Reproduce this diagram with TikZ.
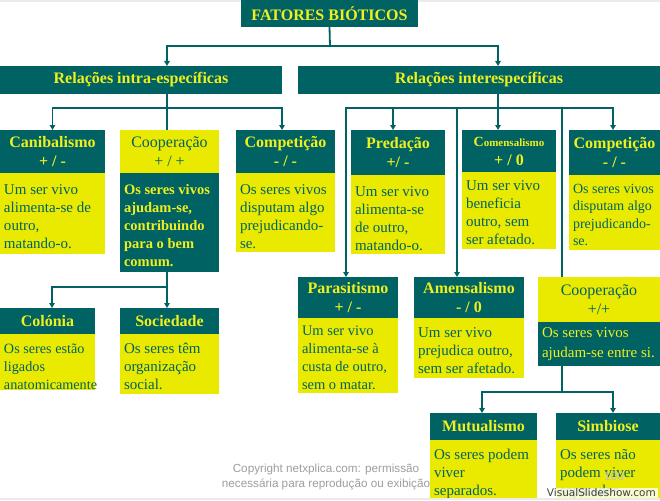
\documentclass[tikz,border=0pt]{standalone}
\usepackage{fontspec}
\setmainfont{Liberation Serif}
\newfontfamily\arialf{Liberation Sans}
\newfontfamily\dejaf{DejaVu Sans}
\usetikzlibrary{arrows.meta,calc}
\definecolor{dk}{RGB}{0,98,98}
\definecolor{yl}{RGB}{234,234,0}
\definecolor{ylt}{RGB}{240,240,30}
\newcommand\tbox[4]{\parbox[c][#1][t]{#2}{\raggedright\rule{0pt}{#3}#4}}
\begin{document}
\begin{tikzpicture}[x=1pt,y=-1pt,
  hd/.style={fill=dk,text=ylt,inner sep=0pt,outer sep=0pt,anchor=north west,align=center,font=\fontsize{16}{19}\selectfont\bfseries},
  yhd/.style={fill=yl,text=dk,inner sep=0pt,outer sep=0pt,anchor=north west,align=center,font=\fontsize{16}{19}\selectfont},
  bd/.style={fill=yl,text=dk,inner xsep=4pt,inner ysep=0pt,outer sep=0pt,anchor=north west,font=\fontsize{15}{18}\selectfont},
  tbd/.style={fill=dk,text=ylt,inner xsep=4pt,inner ysep=0pt,outer sep=0pt,anchor=north west,font=\fontsize{15}{18}\selectfont},
  ln/.style={draw=dk,line width=1.8pt},
  arr/.style={ln,-{Triangle[length=5pt,width=5.5pt]}}]
\useasboundingbox (0,0) rectangle (660,500);
\fill[white] (0,0) rectangle (660,500);
\fill[black!8] (0,0) rectangle (660,2);

% title and bars
\node[hd,minimum width=177pt,minimum height=27pt,font=\fontsize{16}{18}\selectfont\bfseries] (title) at (241,0) {FATORES BIÓTICOS};
\node[hd,minimum width=282pt,minimum height=28pt] (intra) at (0,66) {Relações intra-específicas};
\node[hd,minimum width=362pt,minimum height=28pt] (inter) at (298,66) {Relações interespecíficas};

% intra-specific boxes
\node[hd,minimum width=105pt,minimum height=43pt] (canH) at (0,130) {Canibalismo\\+ / -};
\node[bd] (canB) at (0,173) {\tbox{81pt}{97pt}{21pt}{Um ser vivo\\alimenta-se de\\outro,\\matando-o.}};

\node[yhd,minimum width=99pt,minimum height=43pt] (coopLH) at (120,130) {Cooperação\\+ / +};
\node[tbd,font=\fontsize{14.5}{18}\selectfont\bfseries] (coopLB) at (120,173) {\tbox{99pt}{91pt}{21pt}{Os seres vivos\\ajudam-se,\\contribuindo\\para o bem\\comum.}};

\node[hd,minimum width=99pt,minimum height=43pt] (compLH) at (236,130) {Competição\\- / -};
\node[bd] (compLB) at (236,173) {\tbox{79pt}{91pt}{21pt}{Os seres vivos\\disputam algo\\prejudicando-\\se.}};

\node[hd,minimum width=95pt,minimum height=26pt] (colH) at (0,308) {Colónia};
\node[bd,font=\fontsize{14.2}{18}\selectfont] (colB) at (0,334) {\tbox{56pt}{87pt}{19pt}{Os seres estão\\ligados\\anatomicamente}};

\node[hd,minimum width=99pt,minimum height=26pt] (socH) at (120,308) {Sociedade};
\node[bd] (socB) at (120,334) {\tbox{60pt}{91pt}{19pt}{Os seres têm\\organização\\social.}};

% inter-specific boxes
\node[hd,minimum width=94pt,minimum height=45pt] (predH) at (351,130) {Predação\\+/ -};
\node[bd] (predB) at (351,175) {\tbox{79pt}{86pt}{21pt}{Um ser vivo\\alimenta-se\\de outro,\\matando-o.}};

\node[hd,minimum width=94pt,minimum height=42pt] (comH) at (462,130) {{\fontsize{14}{17}\selectfont C}{\fontsize{11}{17}\selectfont omensalismo}\\+ / 0};
\node[bd] (comB) at (462,172) {\tbox{77pt}{86pt}{18pt}{Um ser vivo\\beneficia\\outro, sem\\ser afetado.}};

\node[hd,minimum width=91pt,minimum height=45pt] (compRH) at (569,130) {Competição\\- / -};
\node[bd,font=\fontsize{14}{17.5}\selectfont] (compRB) at (569,175) {\tbox{75pt}{83pt}{18pt}{Os seres vivos\\disputam algo\\prejudicando-\\se.}};

\node[hd,minimum width=100pt,minimum height=41pt] (parH) at (298,277) {Parasitismo\\+ / -};
\node[bd,font=\fontsize{14.5}{18}\selectfont] (parB) at (298,318) {\tbox{75pt}{92pt}{17pt}{Um ser vivo\\alimenta-se à\\custa de outro,\\sem o matar.}};

\node[hd,minimum width=110pt,minimum height=41pt] (amH) at (414,277) {Amensalismo\\- / 0};
\node[bd] (amB) at (414,318) {\tbox{60pt}{102pt}{19pt}{Um ser vivo\\prejudica outro,\\sem ser afetado.}};

\node[yhd,minimum width=122pt,minimum height=45pt] (coopRH) at (538,277) {Cooperação\\+/+};
\node[tbd,font=\fontsize{15}{20}\selectfont] (coopRB) at (538,322) {\tbox{44pt}{114pt}{15pt}{Os seres vivos\\ajudam-se entre si.}};

\node[hd,minimum width=107pt,minimum height=27pt] (mutH) at (430,413) {Mutualismo};
\node[bd] (mutB) at (430,440) {\tbox{60pt}{99pt}{19pt}{Os seres podem\\viver\\separados.}};

\node[hd,minimum width=104pt,minimum height=27pt] (simH) at (556,413) {Simbiose};
\node[bd] (simB) at (556,440) {\tbox{60pt}{96pt}{19pt}{Os seres não\\podem viver\\separados.}};

% connectors
\coordinate (j0) at (330,46);
\coordinate (j1) at (167,108);
\coordinate (j2) at (498,108);
\coordinate (j3) at (167,287);
\coordinate (j4) at (562,392);
\draw[ln] (title.south) -- (j0);
\draw[arr] (j0) -| (intra.north -| j1);
\draw[arr] (j0) -| (inter.north -| j2);

\draw[ln] (intra.south -| j1) -- (coopLH.north -| j1);
\draw[arr] (j1) -| (canH.north);
\draw[arr] (j1) -| ($(compLH.north west)+(46,0)$);

\draw[ln] (inter.south -| j2) -- (j2);
\draw[arr] (j2) -| ($(parH.north west)+(48,0)$);
\draw[arr] (j2) -| ($(predH.north west)+(42,0)$);
\draw[arr] (j2) -| ($(amH.north west)+(43,0)$);
\draw[arr] (j2) -- (comH.north -| j2);
\draw[ln] (j2) -| ($(coopRH.north west)+(24,0)$);
\draw[arr] (j2) -| ($(compRH.north west)+(44,0)$);

\draw[ln] (coopLB.south -| j3) -- (j3);
\draw[arr] (j3) -| ($(colH.north west)+(52,0)$);
\draw[arr] (j3) -- (socH.north -| j3);

\draw[ln] (coopRB.south -| j4) -- (j4);
\draw[arr] (j4) -| ($(mutH.north west)+(52,0)$);
\draw[arr] (j4) -| ($(simH.north west)+(57,0)$);

% footer texts
\node[text=black!38,align=center,font=\arialf\fontsize{11.7}{15}\selectfont,inner sep=0pt] (copy) at (326,476.5) {Copyright netxplica.com: permissão\\necessária para reprodução ou exibição};
\node[text=black!25,font=\arialf\fontsize{12}{14}\selectfont,inner sep=0pt] (pg) at (614,476) {100};
\node[fill=white,fill opacity=0.8,text opacity=1,text=black!75,font=\dejaf\fontsize{10.5}{12}\selectfont,inner xsep=2pt,inner ysep=1pt,anchor=south east] (wm) at (658,498) {VisualSlideshow.com};
\fill[black!8] (0,498) rectangle (660,500);
\end{tikzpicture}
\end{document}
